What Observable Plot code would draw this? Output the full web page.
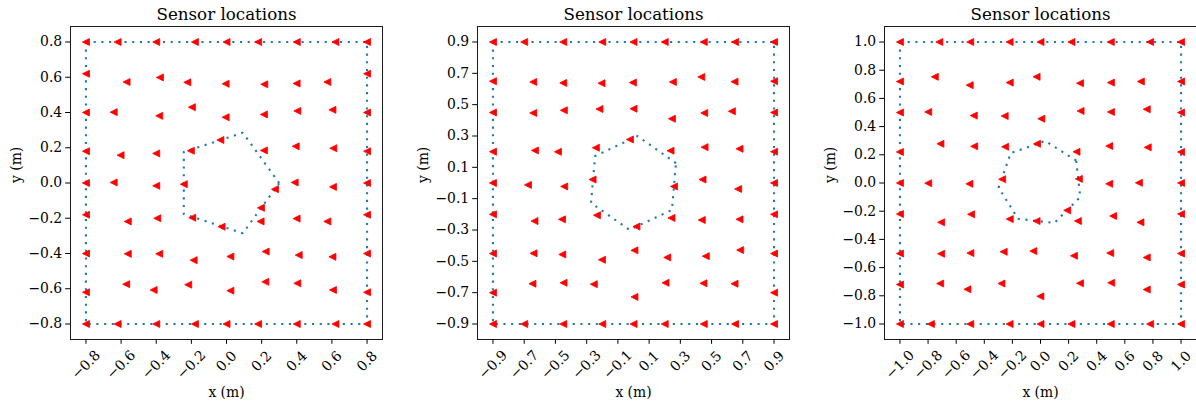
<!DOCTYPE html>
<html><head><meta charset="utf-8">
<script src="https://cdn.jsdelivr.net/npm/d3@7"></script>
<script src="https://cdn.jsdelivr.net/npm/@observablehq/plot@0.6"></script>
<style>
html,body{margin:0;padding:0;background:#fff;overflow:hidden;}
#wrap{position:relative;width:1196px;height:403px;overflow:hidden;background:#fff;}
.panel{position:absolute;top:0;width:392px;height:403px;}
.panel svg{max-width:none !important;}
</style></head><body><div id="wrap"></div>
<script>
// ---------- Panel 1 (pentagon) ----------
const p1Lim = 0.888;
const p1Ticks = [-0.8, -0.6, -0.4, -0.2, 0.0, 0.2, 0.4, 0.6, 0.8];
const p1BoxX = [-0.8, 0.8, 0.8, -0.8, -0.8];
const p1BoxY = [0.8, 0.8, -0.8, -0.8, 0.8];
const p1TopX = [-0.8, -0.62, -0.4, -0.18, 0.0, 0.18, 0.4, 0.62, 0.8];
const p1BotX = [-0.8, -0.62, -0.4, -0.18, 0.0, 0.18, 0.4, 0.62, 0.8];
const p1SideY = [0.62, 0.4, 0.18, 0.0, -0.18, -0.4, -0.62];
const p1PolyX = [0.3, 0.093, -0.243, -0.243, 0.093];
const p1PolyY = [0.0, 0.285, 0.176, -0.176, -0.285];
const p1InX = [-0.569, -0.379, -0.223, -0.005, 0.215, 0.399, 0.574,
               -0.642, -0.383, -0.197, -0.005, 0.213, 0.403, 0.603,
               -0.603, -0.400, -0.203, -0.035, 0.213, 0.394, 0.608,
               -0.642, -0.400, -0.243, 0.276, 0.388, 0.606,
               -0.562, -0.394, -0.195, -0.028, 0.196, 0.194, 0.399, 0.574,
               -0.562, -0.383, -0.187, 0.022, 0.223, 0.411, 0.603,
               -0.571, -0.415, -0.218, 0.022, 0.221, 0.403, 0.606];
const p1InY = [0.573, 0.599, 0.571, 0.563, 0.560, 0.565, 0.573,
               0.402, 0.381, 0.430, 0.373, 0.389, 0.409, 0.415,
               0.158, 0.168, 0.183, 0.244, 0.185, 0.208, 0.197,
               0.003, -0.016, -0.007, -0.035, 0.003, -0.022,
               -0.218, -0.200, -0.197, -0.248, -0.141, -0.218, -0.202, -0.218,
               -0.402, -0.402, -0.438, -0.417, -0.389, -0.409, -0.419,
               -0.574, -0.607, -0.577, -0.611, -0.561, -0.569, -0.607];

// ---------- Panel 2 (hexagon) ----------
const p2Lim = 0.999;
const p2Ticks = [-0.9, -0.7, -0.5, -0.3, -0.1, 0.1, 0.3, 0.5, 0.7, 0.9];
const p2BoxX = [-0.9, 0.9, 0.9, -0.9, -0.9];
const p2BoxY = [0.9, 0.9, -0.9, -0.9, 0.9];
const p2TopX = [-0.9, -0.7, -0.45, -0.2, 0.0, 0.2, 0.45, 0.65, 0.9];
const p2BotX = [-0.9, -0.7, -0.45, -0.2, 0.0, 0.2, 0.45, 0.65, 0.9];
const p2SideY = [0.65, 0.45, 0.2, 0.0, -0.2, -0.45, -0.7];
const p2PolyX = [0.272, 0.026, -0.246, -0.272, -0.026, 0.246];
const p2PolyY = [0.127, 0.299, 0.172, -0.127, -0.299, -0.172];
const p2InX = [-0.642, -0.450, -0.205, -0.004, 0.252, 0.434, 0.647,
               -0.642, -0.446, -0.218, 0.000, 0.246, 0.453, 0.630,
               -0.631, -0.484, -0.241, -0.023, 0.237, 0.455, 0.679,
               -0.676, -0.444, -0.262, 0.259, 0.442, 0.670,
               -0.634, -0.458, -0.234, 0.019, 0.243, 0.437, 0.679,
               -0.640, -0.456, -0.202, 0.006, 0.216, 0.463, 0.683,
               -0.647, -0.448, -0.254, 0.006, 0.205, 0.448, 0.647];
const p2InY = [0.645, 0.639, 0.637, 0.641, 0.645, 0.677, 0.647,
               0.447, 0.464, 0.472, 0.474, 0.410, 0.447, 0.458,
               0.208, 0.199, 0.225, 0.278, 0.206, 0.229, 0.218,
               -0.012, -0.022, 0.022, -0.022, 0.022, -0.038,
               -0.243, -0.232, -0.206, -0.278, -0.223, -0.236, -0.232,
               -0.449, -0.456, -0.490, -0.430, -0.475, -0.467, -0.428,
               -0.643, -0.637, -0.646, -0.727, -0.637, -0.640, -0.643];

// ---------- Panel 3 (heptagon) ----------
const p3Lim = 1.11;
const p3Ticks = [-1.0, -0.8, -0.6, -0.4, -0.2, 0.0, 0.2, 0.4, 0.6, 0.8, 1.0];
const p3BoxX = [-1.0, 1.0, 1.0, -1.0, -1.0];
const p3BoxY = [1.0, 1.0, -1.0, -1.0, 1.0];
const p3TopX = [-1.0, -0.72, -0.5, -0.22, 0.0, 0.22, 0.5, 0.78, 1.0];
const p3BotX = [-1.0, -0.78, -0.5, -0.22, 0.0, 0.22, 0.5, 0.78, 1.0];
const p3SideY = [0.72, 0.5, 0.22, 0.0, -0.22, -0.5, -0.72];
const p3PolyX = [0.254, 0.034, -0.212, -0.298, -0.160, 0.099, 0.283];
const p3PolyY = [0.159, 0.298, 0.212, -0.033, -0.254, -0.283, -0.099];
const p3InX = [-0.752, -0.504, -0.219, -0.028, 0.281, 0.501, 0.714,
               -0.799, -0.475, -0.255, 0.006, 0.285, 0.501, 0.756,
               -0.712, -0.472, -0.252, -0.025, 0.256, 0.489, 0.763,
               -0.799, -0.506, -0.273, 0.273, 0.489, 0.700,
               -0.707, -0.494, -0.219, -0.028, 0.190, 0.266, 0.517, 0.711,
               -0.707, -0.499, -0.262, -0.051, 0.238, 0.496, 0.756,
               -0.714, -0.520, -0.278, -0.001, 0.281, 0.503, 0.756];
const p3InY = [0.753, 0.694, 0.712, 0.753, 0.708, 0.712, 0.720,
               0.504, 0.478, 0.475, 0.456, 0.511, 0.504, 0.523,
               0.278, 0.260, 0.257, 0.278, 0.221, 0.262, 0.253,
               -0.001, -0.006, 0.027, 0.029, -0.006, 0.001,
               -0.279, -0.222, -0.256, -0.270, -0.194, -0.270, -0.234, -0.279,
               -0.502, -0.497, -0.488, -0.483, -0.516, -0.497, -0.528,
               -0.713, -0.754, -0.713, -0.804, -0.711, -0.708, -0.756];

const panels = [
  {left: 0,   lim: p1Lim, ticks: p1Ticks, boxX: p1BoxX, boxY: p1BoxY, topX: p1TopX, botX: p1BotX, sideY: p1SideY, polyX: p1PolyX, polyY: p1PolyY, inX: p1InX, inY: p1InY},
  {left: 407, lim: p2Lim, ticks: p2Ticks, boxX: p2BoxX, boxY: p2BoxY, topX: p2TopX, botX: p2BotX, sideY: p2SideY, polyX: p2PolyX, polyY: p2PolyY, inX: p2InX, inY: p2InY},
  {left: 814, lim: p3Lim, ticks: p3Ticks, boxX: p3BoxX, boxY: p3BoxY, topX: p3TopX, botX: p3BotX, sideY: p3SideY, polyX: p3PolyX, polyY: p3PolyY, inX: p3InX, inY: p3InY}
];

const FONT = "DejaVu Serif";
const TICK_FS = 13.9;
const fmt = d3.format(".1f");
const triLeft = {
  draw(ctx, size) {
    const s = Math.sqrt(size / Math.PI);
    ctx.moveTo(-s, 0);
    ctx.lineTo(s, -s);
    ctx.lineTo(s, s);
    ctx.closePath();
  }
};

function makePanel(c) {
  const top = c.boxY[0], bottom = c.boxY[2], leftE = c.boxX[0], rightE = c.boxX[1];
  const sensors = [];
  c.topX.forEach(x => sensors.push({x, y: top}));
  c.botX.forEach(x => sensors.push({x, y: bottom}));
  c.sideY.forEach(y => { sensors.push({x: leftE, y}); sensors.push({x: rightE, y}); });
  c.inX.forEach((x, i) => sensors.push({x, y: c.inY[i]}));
  const box = c.boxX.map((x, i) => ({x, y: c.boxY[i]}));
  const poly = c.polyX.map((x, i) => ({x, y: c.polyY[i]}));
  poly.push(poly[0]);
  const negT = c.ticks.filter(t => t < -1e-9);
  const posT = c.ticks.filter(t => t >= -1e-9);
  const lineStyle = {x: "x", y: "y", stroke: "#1f77b4", strokeWidth: 2.1, strokeDasharray: "2.1 5.6", strokeLinecap: "butt"};
  return Plot.plot({
    width: 392, height: 403,
    marginLeft: 70, marginRight: 10, marginTop: 26, marginBottom: 64,
    style: {fontFamily: FONT, fontSize: TICK_FS + "px", color: "#000", background: "#fff", overflow: "visible", maxWidth: "none"},
    x: {domain: [-c.lim, c.lim]},
    y: {domain: [-c.lim, c.lim]},
    marks: [
      Plot.line(box, lineStyle),
      Plot.line(poly, lineStyle),
      Plot.dot(sensors, {x: "x", y: "y", symbol: triLeft, r: 3.5, fill: "#ff0000", stroke: "#ff0000", strokeWidth: 0.8}),
      Plot.frame({stroke: "#1a1a1a", strokeWidth: 1}),
      Plot.axisY({ticks: c.ticks, tickFormat: fmt, tickSize: 4.8, tickPadding: 3.5, label: null, fontSize: TICK_FS, fontFamily: FONT}),
      Plot.axisX({ticks: negT, tickFormat: fmt, tickSize: 4.8, tickRotate: -45, textAnchor: "middle", lineAnchor: "middle", tickPadding: 20.5, label: null, fontSize: TICK_FS, fontFamily: FONT}),
      Plot.axisX({ticks: posT, tickFormat: fmt, tickSize: 4.8, tickRotate: -45, textAnchor: "middle", lineAnchor: "middle", tickPadding: 17, label: null, fontSize: TICK_FS, fontFamily: FONT}),
      Plot.text(["Sensor locations"], {text: d => d, frameAnchor: "top", dy: -6.7, lineAnchor: "bottom", fontSize: 16.7, fontFamily: FONT, fill: "#000"}),
      Plot.text(["x (m)"], {text: d => d, frameAnchor: "bottom", dy: 57, lineAnchor: "bottom", fontSize: TICK_FS, fontFamily: FONT, fill: "#000"}),
      Plot.text(["y (m)"], {text: d => d, frameAnchor: "left", dx: -50, rotate: -90, lineAnchor: "bottom", fontSize: TICK_FS, fontFamily: FONT, fill: "#000"})
    ]
  });
}

const wrap = document.getElementById("wrap");
panels.forEach(c => {
  const div = document.createElement("div");
  div.className = "panel";
  div.style.left = c.left + "px";
  div.appendChild(makePanel(c));
  wrap.appendChild(div);
});
</script>
</body></html>
